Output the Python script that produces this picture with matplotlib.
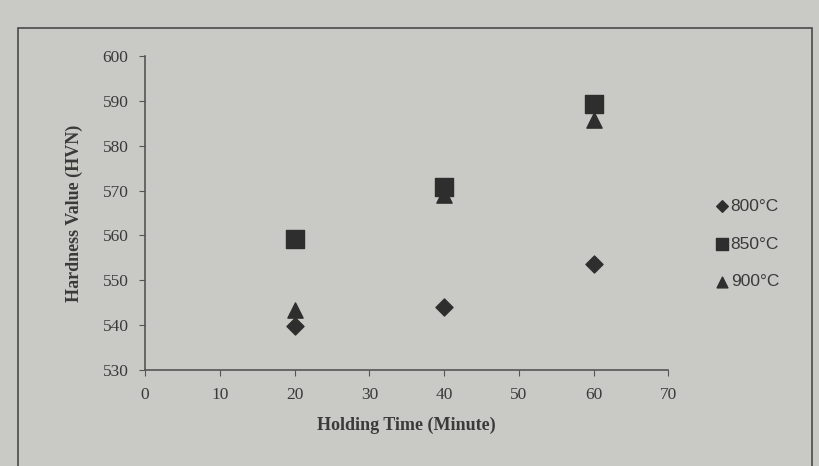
import matplotlib
matplotlib.use('Agg')
import matplotlib.pyplot as plt
from matplotlib.patches import Rectangle

# holding time (minute) and hardness (HVN) per temperature
time = [20, 40, 60]
h800 = [539.7, 544.0, 553.7]
h850 = [559.3, 570.8, 589.3]
h900 = [543.3, 569.0, 585.8]
labels = ['800°C', '850°C', '900°C']

bg = '#c9cac5'
ink = '#2e2e2e'

fig = plt.figure(figsize=(8.2, 4.66), dpi=100, facecolor=bg)
ax = fig.add_axes([0.177, 0.206, 0.638, 0.674])
ax.set_facecolor('none')

ax.scatter(time, h800, marker='D', s=75, c=ink, label=labels[0], zorder=3)
ax.scatter(time, h850, marker='s', s=150, c=ink, label=labels[1], zorder=3)
ax.scatter(time, h900, marker='^', s=120, c=ink, label=labels[2], zorder=2)

ax.set_xlim(0, 70)
ax.set_ylim(530, 600)
ax.set_xticks(range(0, 71, 10))
ax.set_yticks(range(530, 601, 10))

for side in ['top', 'right']:
    ax.spines[side].set_visible(False)
for side in ['left', 'bottom']:
    ax.spines[side].set_color('#555555')
    ax.spines[side].set_linewidth(1.2)
ax.tick_params(direction='out', length=4, color='#555555', labelcolor='#3a3a3a', labelsize=12.5)
ax.tick_params(axis='y', pad=8)
ax.tick_params(axis='x', pad=8)
for t in ax.get_xticklabels() + ax.get_yticklabels():
    t.set_family('Liberation Serif')

ax.set_xlabel('Holding Time (Minute)', family='Liberation Serif', fontweight='bold',
              fontsize=13, color='#3a3a3a', labelpad=10)
ax.set_ylabel('Hardness Value (HVN)', family='Liberation Serif', fontweight='bold',
              fontsize=13, color='#3a3a3a', labelpad=14)

leg = fig.legend(loc='center left', bbox_to_anchor=(0.853, 0.476), frameon=False,
                 handletextpad=0.1, labelspacing=1.3, handlelength=0.8,
                 prop={'family': 'Liberation Sans', 'size': 12.5})
for t in leg.get_texts():
    t.set_color('#3a3a3a')
for hnd, sz in zip(leg.legend_handles, [35, 75, 60]):
    hnd.set_sizes([sz])

# outer chart frame
fig.patches.append(Rectangle((0.022, -0.02), 0.968, 0.96, transform=fig.transFigure,
                             fill=False, edgecolor='#4a4a4a', linewidth=1.2))

plt.savefig('out.png', dpi=100, facecolor=bg)
